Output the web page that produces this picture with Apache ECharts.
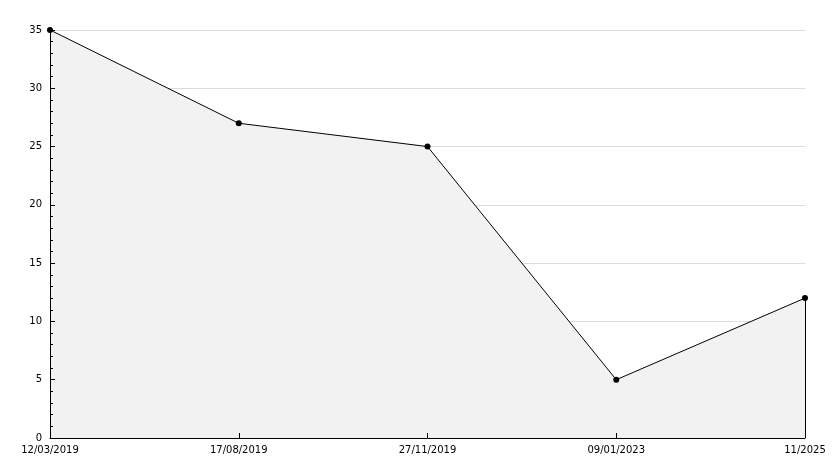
<!DOCTYPE html>
<html>
<head>
<meta charset="utf-8">
<script src="https://cdn.jsdelivr.net/npm/echarts@6/dist/echarts.min.js"></script>
<style>html,body{margin:0;padding:0;background:#fff}#c{width:834px;height:468px}</style>
</head>
<body>
<div id="c"></div>
<script>
const categories = ['12/03/2019', '17/08/2019', '27/11/2019', '09/01/2023', '11/2025'];
const values = [35, 27, 25, 5, 12];
const yMin = 0, yMax = 35, yInterval = 5;

const chart = echarts.init(document.getElementById('c'), null, {renderer: 'canvas'});
const last = categories.length - 1;
chart.setOption({
  animation: false,
  backgroundColor: '#ffffff',
  grid: {left: 50, right: 29, top: 30, bottom: 30, containLabel: false},
  xAxis: {
    type: 'category',
    z: 10,
    data: categories,
    boundaryGap: false,
    axisLine: {lineStyle: {color: '#000', width: 1}},
    axisTick: {inside: true, length: 5, lineStyle: {color: '#000'}},
    axisLabel: {color: '#000', fontFamily: 'DejaVu Sans', fontSize: 10, margin: 7, interval: 0},
    splitLine: {show: false}
  },
  yAxis: [{
    type: 'value',
    z: 10,
    min: yMin, max: yMax, interval: yInterval,
    axisLine: {show: true, lineStyle: {color: '#000', width: 1}},
    axisTick: {show: true, inside: true, length: 5, lineStyle: {color: '#000'}},
    minorTick: {show: true, splitNumber: 5, length: 3, lineStyle: {color: '#000'}},
    axisLabel: {color: '#000', fontFamily: 'DejaVu Sans', fontSize: 10, margin: 8},
    splitLine: {show: false}
  }, {
    type: 'value',
    z: 0,
    position: 'left',
    min: yMin, max: yMax, interval: yInterval,
    axisLine: {show: false},
    axisTick: {show: false},
    axisLabel: {show: false},
    splitLine: {show: true, lineStyle: {color: '#dddddd', width: 1}}
  }],
  series: [{
    type: 'line',
    z: 2,
    yAxisIndex: 0,
    data: values,
    symbol: 'circle',
    symbolSize: 6,
    itemStyle: {color: '#000'},
    lineStyle: {color: '#000', width: 1},
    areaStyle: {color: '#f2f2f2', opacity: 1},
    markLine: {
      silent: true,
      symbol: 'none',
      label: {show: false},
      lineStyle: {color: '#000', width: 1, type: 'solid'},
      data: [[{coord: [categories[last], yMin]}, {coord: [categories[last], values[last]]}]]
    }
  }]
});
</script>
</body>
</html>
